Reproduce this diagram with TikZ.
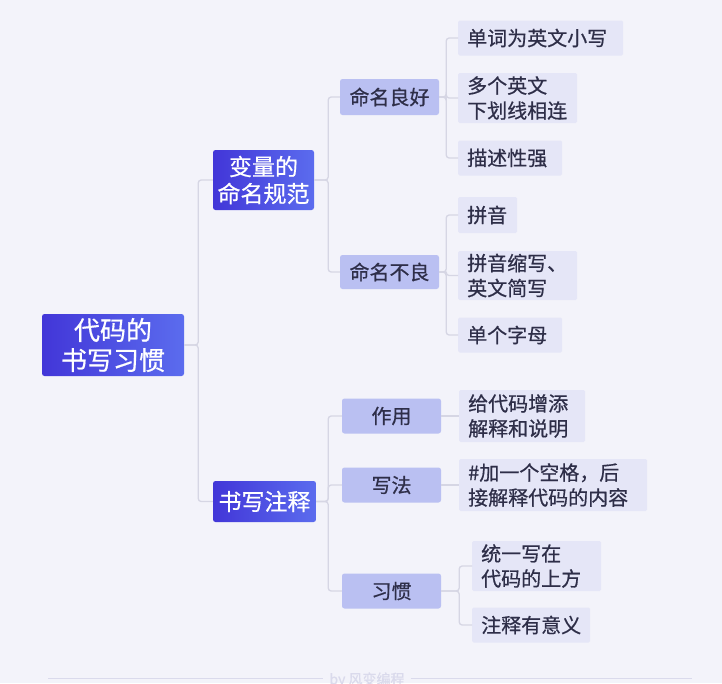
\documentclass[tikz,border=0pt]{standalone}
\usepackage{fontspec}
\setmainfont{Noto Sans CJK SC}[FakeBold=0.6]
\usetikzlibrary{calc}
\definecolor{paper}{HTML}{F3F3FA}
\definecolor{deep}{HTML}{4236D8}
\definecolor{deeplight}{HTML}{5B6CEE}
\definecolor{mid}{HTML}{BAC0F2}
\definecolor{pale}{HTML}{E5E6F7}
\definecolor{ink}{HTML}{2E2E48}
\definecolor{wire}{HTML}{D6D6E4}
\definecolor{faint}{HTML}{DADAEC}
\tikzset{
  topic/.style = {left color=deep, right color=deeplight, rounded corners=2.5pt,
                  text=white, align=center, inner sep=0pt},
  sub/.style   = {fill=mid, rounded corners=2.5pt, text=ink, align=center,
                  inner sep=0pt, font=\fontsize{20}{25}\selectfont},
  leaf/.style  = {fill=pale, rounded corners=1.5pt, text=ink, align=left, anchor=west,
                  inner xsep=9pt, inner ysep=0pt, font=\fontsize{20}{25}\selectfont},
  link/.style  = {draw=wire, line width=1.3pt, rounded corners=3pt},
}

\begin{document}
\begin{tikzpicture}[x=1pt,y=-1pt]
    \useasboundingbox (0,0) rectangle (722,683);
    \fill[paper] (0,0) rectangle (722,683);
    % main topics
    \node[topic, minimum width=142, minimum height=62, font=\fontsize{26}{30}\selectfont]
      (root) at (113,345) {代码的\\书写习惯};
    \node[topic, minimum width=101, minimum height=60, font=\fontsize{23}{27}\selectfont]
      (var) at (263.5,180) {变量的\\命名规范};
    \node[topic, minimum width=103, minimum height=41, font=\fontsize{23}{27}\selectfont]
      (note) at (264.5,501.5) {书写注释};
    % second level
    \node[sub, minimum width=99, minimum height=36] (good)  at (389.5,97)  {命名良好};
    \node[sub, minimum width=99, minimum height=34] (bad)   at (389.5,272) {命名不良};
    \node[sub, minimum width=99, minimum height=35] (use)   at (391.5,416) {作用};
    \node[sub, minimum width=99, minimum height=35] (how)   at (391.5,485) {写法};
    \node[sub, minimum width=99, minimum height=35] (habit) at (391.5,591) {习惯};
    % leaves
    \node[leaf, text width=147pt, minimum height=35] (g1) at (458,38)    {单词为英文小写};
    \node[leaf, text width=101pt, minimum height=50] (g2) at (458,98)    {多个英文\\下划线相连};
    \node[leaf, text width=86pt,  minimum height=35] (g3) at (458,158)   {描述性强};
    \node[leaf, text width=41pt,  minimum height=36] (b1) at (458,215)   {拼音};
    \node[leaf, text width=101pt, minimum height=49] (b2) at (458,275.5) {拼音缩写、\\英文简写};
    \node[leaf, text width=86pt,  minimum height=35] (b3) at (458,335)   {单个字母};
    \node[leaf, text width=108pt, minimum height=52] (u1) at (459,416)   {给代码增添\\解释和说明};
    \node[leaf, text width=170pt, minimum height=52] (h1) at (459,485)   {\#加一个空格，后\\接解释代码的内容};
    \node[leaf, text width=111pt, minimum height=50] (t1) at (472,566)   {统一写在\\代码的上方};
    \node[leaf, text width=100pt, minimum height=35] (t2) at (472,625)   {注释有意义};
    % branches
    \foreach \k in {var,note}{
      \draw[link] (root.east) -- ++(14,0) |- (\k.west);}
    \foreach \k in {good,bad}{
      \draw[link] (var.east) -- ++(14,0) |- (\k.west);}
    \foreach \k in {use,how,habit}{
      \draw[link] (note.east) -- ++(12,0) |- (\k.west);}
    \foreach \k in {g1,g2,g3}{
      \draw[link] (good.east) -- ++(7,0) |- (\k.west);}
    \foreach \k in {b1,b2,b3}{
      \draw[link] (bad.east) -- ++(7,0) |- (\k.west);}
    \draw[link] (use.east) -- (u1.west);
    \draw[link] (how.east) -- (h1.west);
    \foreach \k in {t1,t2}{
      \draw[link] (habit.east) -- ++(18,0) |- (\k.west);}
    % footer mark
    \node[text=faint, font=\fontsize{14}{14}\selectfont, inner sep=6pt] (sig) at (367,680) {by 风变编程};
    \coordinate (ruleL) at (48,678);
    \coordinate (ruleR) at (692,678);
    \draw[faint, line width=0.8pt] (ruleL) -- (ruleL -| sig.west);
    \draw[faint, line width=0.8pt] (sig.east |- ruleR) -- (ruleR);
  \end{tikzpicture}
\end{document}
